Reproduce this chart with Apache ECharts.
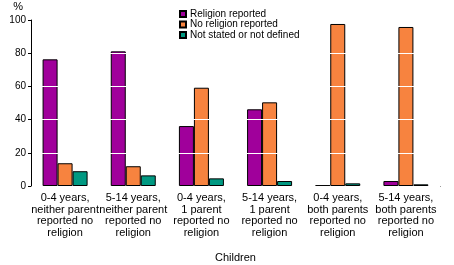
<!DOCTYPE html>
<html>
<head>
<meta charset="UTF-8">
<title>Children religion</title>
<script src="https://cdn.jsdelivr.net/npm/echarts@6/dist/echarts.min.js"></script>
<style>
    html, body { margin: 0; padding: 0; background: #fff; }
    #chart1 { width: 454px; height: 265px; }
</style>
</head>
<body>
<div id="chart1"></div>
<script type="text/javascript">
    // categories and values
    var categories = [
        '0-4 years,\nneither parent\nreported no\nreligion',
        '5-14 years,\nneither parent\nreported no\nreligion',
        '0-4 years,\n1 parent\nreported no\nreligion',
        '5-14 years,\n1 parent\nreported no\nreligion',
        '0-4 years,\nboth parents\nreported no\nreligion',
        '5-14 years,\nboth parents\nreported no\nreligion'
    ];
    var religionReported = [76.3, 81.1, 36.1, 46.2, 0.4, 3.0];
    var noReligion = [13.7, 11.9, 59.2, 50.4, 97.6, 95.8];
    var notStated = [8.9, 6.4, 4.6, 3.0, 1.6, 1.0];
    var yTicks = [0, 20, 40, 60, 80, 100];

    var font = 'Liberation Sans';
    var myChart1 = echarts.init(document.getElementById('chart1'));

    function bar(name, data, color) {
        return {
            name: name,
            type: 'bar',
            data: data,
            barWidth: 15,
            barGap: '0%',
            itemStyle: { color: color, borderColor: '#000', borderWidth: 1 }
        };
    }

    myChart1.setOption({
        animation: false,
        textStyle: { fontFamily: font },
        grid: { left: 31, right: 14, top: 20, bottom: 79, containLabel: false, outerBoundsMode: 'none' },
        legend: {
            orient: 'vertical',
            left: 179,
            top: 9,
            padding: 0,
            itemWidth: 6,
            itemHeight: 6,
            itemGap: 0.5,
            icon: 'rect',
            textStyle: { fontFamily: font, fontSize: 10, color: '#000', padding: [0, 0, 0, -1] },
            data: ['Religion reported', 'No religion reported', 'Not stated or not defined']
        },
        xAxis: {
            type: 'category',
            data: categories,
            name: 'Children',
            nameLocation: 'middle',
            nameGap: 66,
            nameTextStyle: { fontFamily: font, fontSize: 11, color: '#000' },
            axisLine: { lineStyle: { color: '#000', width: 1 } },
            axisTick: { alignWithLabel: true, length: 3, lineStyle: { color: '#000' } },
            axisLabel: { interval: 0, fontFamily: font, fontSize: 11, color: '#000', lineHeight: 11.7, margin: 6 }
        },
        yAxis: {
            type: 'value',
            min: 0,
            max: 100,
            interval: 20,
            z: 3,
            name: '%',
            nameLocation: 'end',
            nameGap: 8,
            nameTextStyle: { fontFamily: font, fontSize: 11, color: '#000', align: 'right', padding: [0, 8, 0, 0] },
            axisLine: { show: true, lineStyle: { color: '#000', width: 1 } },
            axisTick: { show: true, length: 3, lineStyle: { color: '#000' } },
            axisLabel: {
                fontFamily: font, fontSize: 10, color: '#000', margin: 5,
                formatter: function (v) { return yTicks.indexOf(v) >= 0 ? String(v) : ''; }
            },
            splitLine: { show: true, lineStyle: { color: '#fff', width: 1 } }
        },
        series: [
            bar('Religion reported', religionReported, '#a0009b'),
            bar('No religion reported', noReligion, '#f7833f'),
            bar('Not stated or not defined', notStated, '#009982')
        ]
    });
</script>
</body>
</html>
